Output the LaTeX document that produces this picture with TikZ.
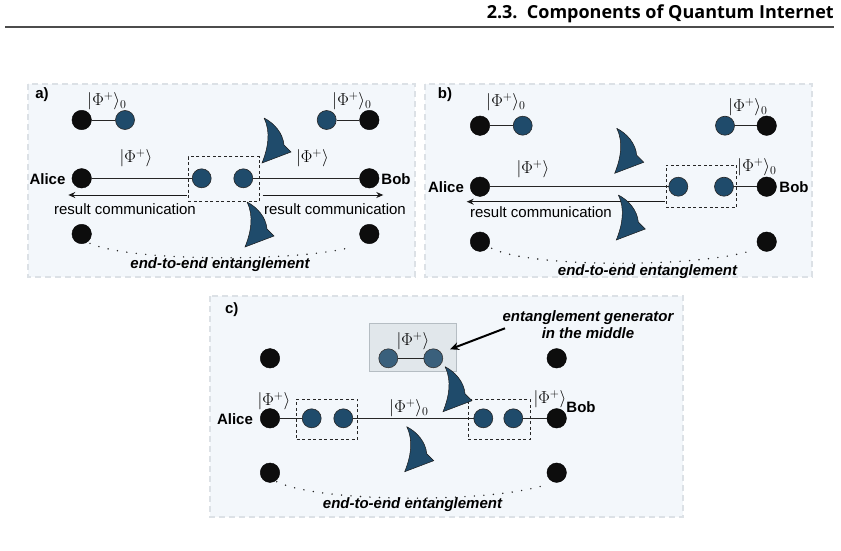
\documentclass[tikz,border=0pt]{standalone}
\usepackage{fontspec}
\setmainfont{Liberation Sans}
\newfontfamily\hdrfont{Open Sans}
\usetikzlibrary{arrows.meta,calc}
\definecolor{qblue}{HTML}{1F4B6B}
\definecolor{qblueL}{HTML}{3A607C}
\definecolor{panelfill}{HTML}{F3F7FB}
\definecolor{paneldraw}{HTML}{DCE1E6}
\definecolor{genfill}{HTML}{E1E7EB}
\definecolor{gendraw}{HTML}{B5BDC3}
\newcommand\kf{\fontsize{17.5}{20}\selectfont}
\newcommand\lf{\fontsize{15}{17}\selectfont}
\begin{document}
\begin{tikzpicture}[x=1pt,y=-1pt,
  panel/.style={draw=paneldraw,fill=panelfill,line width=1.1pt,dash pattern=on 6pt off 4pt},
  bk/.style={circle,fill=black!95,draw=black,minimum size=19.5pt,inner sep=0pt},
  bl/.style={circle,fill=qblue,draw=black!85,line width=0.6pt,minimum size=19pt,inner sep=0pt},
  blL/.style={circle,fill=qblueL,draw=black!80,line width=0.6pt,minimum size=19pt,inner sep=0pt},
  ket/.style={inner sep=0pt,font=\kf},
  lbl/.style={inner sep=0pt,font=\lf\bfseries},
  txt/.style={inner sep=0pt,font=\lf},
  ital/.style={inner sep=0pt,font=\lf\bfseries\itshape},
  dbox/.style={draw=black!85,dash pattern=on 3pt off 2.5pt,line width=0.9pt,inner sep=0pt},
  lnk/.style={draw=black!85,line width=1pt},
  arr/.style={draw=black!90,line width=1pt,-{Stealth[length=7pt,width=6pt]}},
  dots/.style={draw=black!85,line width=1.6pt,line cap=round,dash pattern=on 0pt off 9.5pt},
  curv/.pic={\path[fill=qblue,draw=black!90,line width=0.5pt]
     (0,0) .. controls (10,5) and (19,15) .. (20,27) -- (27,34) -- (-2,45)
     .. controls (4,30) and (7,14) .. (0,0);}
]
\useasboundingbox (0,0) rectangle (841,551);
\fill[white] (0,0) rectangle (841,551);
% header
\node[anchor=base east,inner sep=0pt,font=\hdrfont\bfseries\fontsize{18}{20}\selectfont] (hdr) at (834,19) {2.3.\ \ Components of Quantum Internet};
\draw[black!70,line width=1.3pt] (5,27) -- (834,27);

% ---------------- panel a
\path[panel] (28,84) rectangle (415,277);
\node[lbl] (la) at (42,95) {a)};
\node[bk] (a1) at (81.7,120) {};
\node[bl] (a2) at (125,120) {};
\draw[lnk] (a1) -- (a2);
\node[ket] (ka1) at (107,101) {$|\Phi^+\rangle_0$};
\node[bl] (a3) at (326.7,120) {};
\node[bk] (a4) at (369.3,120) {};
\draw[lnk] (a3) -- (a4);
\node[ket] (ka2) at (352,101) {$|\Phi^+\rangle_0$};
\node[bk] (aA) at (81.7,178.3) {};
\node[lbl] (aAl) at (47.5,179) {Alice};
\node[bl] (a5) at (201.7,178.3) {};
\node[bl] (a6) at (243.3,178.3) {};
\node[bk] (aB) at (369.3,178.3) {};
\node[lbl] (aBl) at (396,179) {Bob};
\draw[lnk] (aA) -- (a5);
\draw[lnk] (a6) -- (aB);
\node[ket] (ka3) at (136,158) {$|\Phi^+\rangle$};
\node[ket] (ka4) at (312.5,158) {$|\Phi^+\rangle$};
\node[dbox,minimum width=71pt,minimum height=45pt] (boxa) at (223.8,179.2) {};
\coordinate (aL1) at (186.7,195);
\coordinate (aL2) at (68.3,195);
\coordinate (aR1) at (262.7,195);
\coordinate (aR2) at (383.3,195);
\draw[arr] (aL1) -- (aL2);
\draw[arr] (aR1) -- (aR2);
\node[txt] (rca) at (125,209) {result communication};
\node[txt] (rcb) at (335,209) {result communication};
\node[bk] (a7) at (81.7,234) {};
\node[bk] (a8) at (369.3,234) {};
\draw[dots] (90,243.3) .. controls (130,262) and (300,262) .. (353.3,246.7);
\node[ital] (eea) at (220,265) {end-to-end entanglement};
\pic at (264,118) {curv};
\pic at (247,202) {curv};

% ---------------- panel b
\path[panel] (425,84) rectangle (812,277);
\node[lbl] (lb) at (445,95) {b)};
\node[bk] (b1) at (480,125.7) {};
\node[bl] (b2) at (522.7,125.7) {};
\draw[lnk] (b1) -- (b2);
\node[ket] (kb1) at (506,102.5) {$|\Phi^+\rangle_0$};
\node[bl] (b3) at (725,125.7) {};
\node[bk] (b4) at (766.7,125.7) {};
\draw[lnk] (b3) -- (b4);
\node[ket] (kb2) at (748,107) {$|\Phi^+\rangle_0$};
\node[bk] (bA) at (480,186.7) {};
\node[lbl] (bAl) at (446,187.5) {Alice};
\node[bl] (b5) at (678.3,186.7) {};
\node[bl] (b6) at (724,186.7) {};
\node[bk] (bB) at (766.7,186.7) {};
\node[lbl] (bBl) at (794,187.5) {Bob};
\draw[lnk] (bA) -- (b5);
\draw[lnk] (b6) -- (bB);
\node[ket] (kb3) at (533,169) {$|\Phi^+\rangle$};
\node[ket] (kb4) at (757,167) {$|\Phi^+\rangle_0$};
\node[dbox,minimum width=70.7pt,minimum height=42.3pt] (boxb) at (701.3,186.2) {};
\coordinate (bL1) at (665,201.7);
\coordinate (bL2) at (466.7,201.7);
\draw[arr] (bL1) -- (bL2);
\node[txt] (rcc) at (541,212) {result communication};
\node[bk] (b7) at (480,241.7) {};
\node[bk] (b8) at (766.7,241.7) {};
\draw[dots] (491.7,248.3) .. controls (530,268) and (700,268) .. (753.3,250);
\node[ital] (eeb) at (647.5,271.5) {end-to-end entanglement};
\pic at (616.7,128.3) {curv};
\pic at (618.3,195) {curv};

% ---------------- panel c
\path[panel] (210,296) rectangle (683,517);
\node[lbl] (lc) at (231.7,310) {c)};
\node[draw=gendraw,fill=genfill,line width=1pt,minimum width=86.7pt,minimum height=48.4pt,inner sep=0pt] (gbox) at (413.3,347.5) {};
\node[blL] (g1) at (388.3,358.3) {};
\node[blL] (g2) at (433.3,358.3) {};
\draw[lnk] (g1) -- (g2);
\node[ket] (kg) at (413,341) {$|\Phi^+\rangle$};
\node[ital,align=center] (gtxt) at (588,325) {entanglement generator\\in the middle};
\coordinate (gtip) at (450,349.3);
\draw[draw=black,line width=2pt,-{Stealth[length=9pt,width=8pt]}] (505,328.3) -- (gtip);
\node[bk] (c1) at (270,358.3) {};
\node[bk] (c2) at (556.7,358.3) {};
\node[bk] (cA) at (270,418.3) {};
\node[lbl] (cAl) at (235,419) {Alice};
\node[bl] (c3) at (311.7,418.3) {};
\node[bl] (c4) at (343.3,418.3) {};
\node[bl] (c5) at (483.3,418.3) {};
\node[bl] (c6) at (513.3,418.3) {};
\node[bk] (cB) at (556.7,418.3) {};
\node[lbl] (cBl) at (581,407) {Bob};
\draw[lnk] (cA) -- (c3);
\draw[lnk] (c4) -- (c5);
\draw[lnk] (c6) -- (cB);
\node[dbox,minimum width=61pt,minimum height=40pt] (boxc1) at (327.2,419.3) {};
\node[dbox,minimum width=61.7pt,minimum height=40pt] (boxc2) at (499.2,419.3) {};
\node[ket] (kc1) at (274,401.5) {$|\Phi^+\rangle$};
\node[ket] (kc2) at (409,408) {$|\Phi^+\rangle_0$};
\node[ket] (kc3) at (550,399) {$|\Phi^+\rangle$};
\node[bk] (c7) at (270,472.7) {};
\node[bk] (c8) at (556.7,472.7) {};
\draw[dots] (276.7,481.7) .. controls (320,503) and (490,503) .. (545,485);
\node[ital] (eec) at (412.5,505) {end-to-end entanglement};
\pic at (445,366.7) {curv};
\pic at (406.7,426.7) {curv};
\end{tikzpicture}
\end{document}
